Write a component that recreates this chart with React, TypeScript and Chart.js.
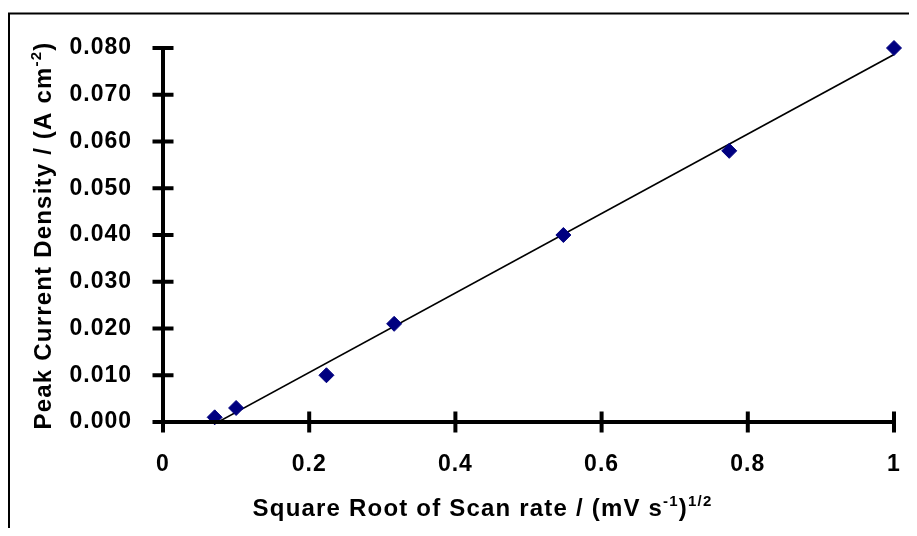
import React, { useEffect, useRef } from "react";
import { Chart, registerables } from "chart.js";

Chart.register(...registerables);

// Square root of scan rate / (mV s^-1)^1/2
const sqrtScanRate = [0.0707, 0.1, 0.2236, 0.3162, 0.5477, 0.7746, 1.0];
// Peak current density / (A cm^-2)
const peakCurrent = [0.001, 0.003, 0.01, 0.021, 0.04, 0.058, 0.08];
// Linear trendline end points
const trendX = [0.0707, 1.0];
const trendY = [-0.0004, 0.0786];

const xTitleMain = "Square Root of Scan rate / (mV s";
const xTitleSup1 = "-1";
const xTitleMid = ")";
const xTitleSup2 = "1/2";
const yTitleMain = "Peak Current Density / (A cm";
const yTitleSup = "-2";
const yTitleEnd = ")";

const FONT = '"Liberation Sans", Arial, sans-serif';

const spacingPlugin = {
  id: "spacing",
  beforeUpdate(chart: any) {
    (chart.ctx as any).letterSpacing = "1px";
  },
  beforeDraw(chart: any) {
    (chart.ctx as any).letterSpacing = "1px";
  },
};

const decorPlugin = {
  id: "decor",
  afterDraw(chart: any) {
    const ctx = chart.ctx as CanvasRenderingContext2D;
    const xs = chart.scales.x;
    const ys = chart.scales.y;
    ctx.save();
    (ctx as any).letterSpacing = "0px";
    // outer frame
    ctx.strokeStyle = "#000";
    ctx.lineWidth = 2;
    ctx.strokeRect(1, 5.5, 2000, 2000);

    // axes
    const x0 = xs.getPixelForValue(0);
    const x1 = xs.getPixelForValue(1);
    const y0 = ys.getPixelForValue(0);
    const y1 = ys.getPixelForValue(0.08);
    ctx.lineWidth = 4;
    ctx.lineCap = "butt";
    ctx.beginPath();
    ctx.moveTo(x0, y1 - 2);
    ctx.lineTo(x0, y0 + 2);
    ctx.moveTo(x0 - 2, y0);
    ctx.lineTo(x1 + 2, y0);
    ctx.stroke();
    // ticks crossing axes
    ctx.beginPath();
    ys.ticks.forEach((t: any) => {
      const py = ys.getPixelForValue(t.value);
      ctx.moveTo(x0 - 10.5, py);
      ctx.lineTo(x0 + 10.5, py);
    });
    xs.ticks.forEach((t: any) => {
      const px = xs.getPixelForValue(t.value);
      ctx.moveTo(px, y0 - 10.5);
      ctx.lineTo(px, y0 + 10.5);
    });
    ctx.stroke();

    // titles with superscripts
    ctx.fillStyle = "#000";
    ctx.textBaseline = "alphabetic";
    ctx.textAlign = "left";
    (ctx as any).letterSpacing = "1.2px";
    const main = `bold 24px ${FONT}`;
    const sup = `bold 15px ${FONT}`;
    const seg = (parts: [string, boolean][]) => {
      let w = 0;
      parts.forEach(([s, isSup]) => {
        ctx.font = isSup ? sup : main;
        w += ctx.measureText(s).width;
      });
      return w;
    };
    const drawParts = (parts: [string, boolean][], sx: number, by: number) => {
      let cx = sx;
      parts.forEach(([s, isSup]) => {
        ctx.font = isSup ? sup : main;
        ctx.fillText(s, cx, isSup ? by - 10 : by);
        cx += ctx.measureText(s).width;
      });
    };
    const xParts: [string, boolean][] = [
      [xTitleMain, false],
      [xTitleSup1, true],
      [xTitleMid, false],
      [xTitleSup2, true],
    ];
    const xw = seg(xParts);
    drawParts(xParts, 474.5 - xw / 2, 508);

    const yParts: [string, boolean][] = [
      [yTitleMain, false],
      [yTitleSup, true],
      [yTitleEnd, false],
    ];
    const yw = seg(yParts);
    ctx.save();
    ctx.translate(42.5, 227.5);
    ctx.rotate(-Math.PI / 2);
    drawParts(yParts, -yw / 2, 0);
    ctx.restore();

    ctx.restore();
  },
};

export default function App() {
  const ref = useRef<HTMLCanvasElement>(null);
  useEffect(() => {
    const canvas = ref.current!;
    const W = 901;
    const H = 520;
    const chart = new Chart(canvas, {
      type: "scatter",
      data: {
        datasets: [
          {
            type: "line",
            label: "Trend",
            data: trendX.map((x, i) => ({ x, y: trendY[i] })),
            borderColor: "#000",
            borderWidth: 1.6,
            pointRadius: 0,
            fill: false,
            order: 2,
          },
          {
            type: "scatter",
            label: "Peak current",
            data: sqrtScanRate.map((x, i) => ({ x, y: peakCurrent[i] })),
            pointStyle: "rectRot",
            pointRadius: 7.5,
            backgroundColor: "#000080",
            borderColor: "#000080",
            borderWidth: 1,
            clip: false,
            order: 1,
          },
        ],
      },
      options: {
        responsive: false,
        animation: false,
        layout: {
          autoPadding: false,
          padding: { left: 0, top: 40, right: W - 886, bottom: 0 },
        },
        plugins: {
          legend: { display: false },
          tooltip: { enabled: false },
        },
        scales: {
          x: {
            type: "linear",
            min: 0,
            max: 1,
            grid: { display: false },
            border: { display: false },
            ticks: {
              stepSize: 0.2,
              color: "#000",
              padding: 21,
              font: { family: FONT, size: 23, weight: "bold" },
              callback: (v: any) => {
                const n = Math.round(Number(v) * 10) / 10;
                return n === 0 || n === 1 ? String(n) : n.toFixed(1);
              },
            },
            afterFit: (s: any) => {
              s.height = H - 414;
              s.paddingLeft = 0;
              s.paddingRight = 0;
            },
          },
          y: {
            type: "linear",
            min: 0,
            max: 0.08,
            grid: { display: false },
            border: { display: false },
            ticks: {
              stepSize: 0.01,
              color: "#000",
              padding: 23,
              font: { family: FONT, size: 23, weight: "bold" },
              callback: (v: any) => Number(v).toFixed(3),
            },
            afterFit: (s: any) => {
              s.width = 155;
              s.paddingTop = 0;
              s.paddingBottom = 0;
            },
          },
        },
      },
      plugins: [spacingPlugin, decorPlugin],
    });
    return () => chart.destroy();
  }, []);
  return (
    <canvas
      ref={ref}
      width={901}
      height={520}
      style={{ display: "block", width: 901, height: 520 }}
    />
  );
}
